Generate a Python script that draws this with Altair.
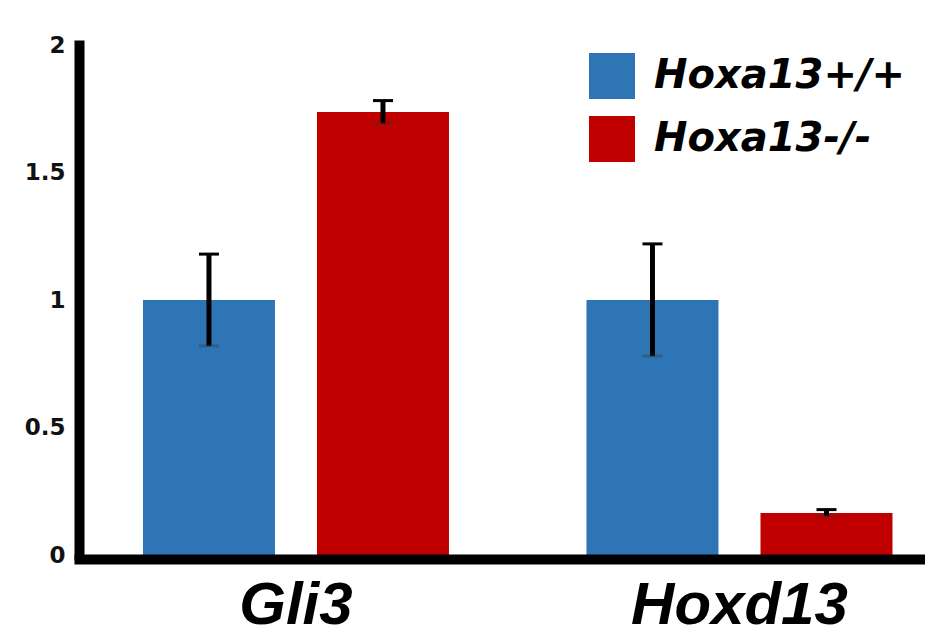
import altair as alt
import pandas as pd

genes = ["Gli3", "Gli3", "Hoxd13", "Hoxd13"]
genotypes = ["Hoxa13+/+", "Hoxa13-/-", "Hoxa13+/+", "Hoxa13-/-"]
means = [1.0, 1.737, 1.0, 0.165]
errs = [0.18, 0.045, 0.22, 0.013]
y_ticks = [0, 0.5, 1, 1.5, 2]
geno_order = ["Hoxa13+/+", "Hoxa13-/-"]
colors = ["#2E75B6", "#C00000"]

df = pd.DataFrame({"gene": genes, "genotype": genotypes, "mean": means, "err": errs})
df["hi"] = df["mean"] + df["err"]
df["lo"] = df["mean"] - df["err"]

x = alt.X("gene:N", title=None,
          scale=alt.Scale(paddingInner=0.31, paddingOuter=0.10875, align=0.663),
          axis=alt.Axis(domainWidth=10, domainColor="black", domainCap="square", offset=4,
                        ticks=False, tickSize=0, labelPadding=17, labelAngle=0, labelLimit=0,
                        labelFont="Liberation Sans", labelFontSize=60, labelFontWeight="bold",
                        labelFontStyle="italic", labelColor="black", labelBaseline="top",
                        zindex=1))
xo = alt.XOffset("genotype:N", sort=geno_order, scale=alt.Scale(paddingInner=0.2414, paddingOuter=0))

base = alt.Chart(df)

bars = base.mark_bar().encode(
    x=x, xOffset=xo,
    y=alt.Y("mean:Q", title=None, scale=alt.Scale(domain=[0, 2], nice=False),
            axis=alt.Axis(values=y_ticks, format="~g", domainWidth=10, domainColor="black",
                          domainCap="square", ticks=False, tickSize=0, grid=False, labelPadding=14,
                          labelFont="DejaVu Sans", labelFontSize=23, labelFontWeight="bold",
                          labelColor="#111", zindex=1)),
    color=alt.Color("genotype:N", sort=geno_order,
                    scale=alt.Scale(domain=geno_order, range=colors),
                    legend=alt.Legend(title=None, orient="none", legendX=510, legendY=8,
                                      symbolType="square", symbolSize=2116, symbolStrokeWidth=0,
                                      symbolOpacity=1, padding=0, rowPadding=17, labelOffset=19,
                                      labelFont="DejaVu Sans", labelFontSize=40,
                                      labelFontWeight="bold", labelFontStyle="italic",
                                      labelColor="black", labelLimit=400)),
)

rules = base.mark_rule(color="black", strokeWidth=5).encode(
    x=x, xOffset=xo, y="lo:Q", y2="hi:Q")

top_caps = base.mark_tick(color="black", thickness=3, size=20, opacity=1).encode(
    x=x, xOffset=xo, y="hi:Q")

bottom_caps = base.mark_tick(color="#333", thickness=3, size=20, opacity=0.35).encode(
    x=x, xOffset=xo, y="lo:Q")

chart = alt.layer(bars, rules, top_caps, bottom_caps).properties(
    width=846, height=510,
    padding={"left": 71, "top": 37, "right": 0, "bottom": 77},
    autosize=alt.AutoSizeParams(type="none"),
    background="white",
).configure_view(stroke=None)

chart.save("out.html", embed_options={"renderer": "svg", "actions": False})
